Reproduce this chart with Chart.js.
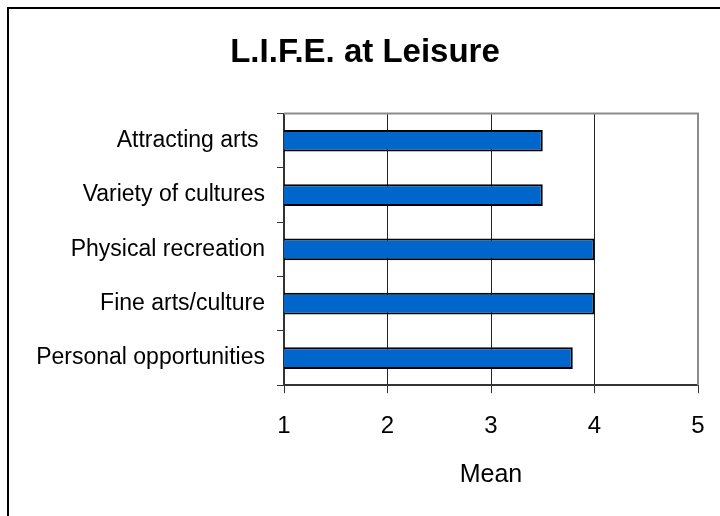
<!DOCTYPE html>
<html>
<head>
<meta charset="utf-8">
<script src="https://cdn.jsdelivr.net/npm/chart.js@4/dist/chart.umd.min.js"></script>
<style>
  body { margin: 0; background: #fff; }
  #wrap { width: 720px; height: 516px; }
</style>
</head>
<body>
<div id="wrap"><canvas id="grafico" width="720" height="516"></canvas></div>
<script>
// dados
const categorias = ['Attracting arts ', 'Variety of cultures', 'Physical recreation', 'Fine arts/culture', 'Personal opportunities'];
const medias = [3.5, 3.5, 4.0, 4.0, 3.79];
const ticksX = [1, 2, 3, 4, 5];

const fonte = "'Liberation Sans', Arial, sans-serif";

// moldura externa + caixa cinza da area do grafico
const molduras = {
  id: 'molduras',
  beforeDraw(chart) {
    const ctx = chart.ctx;
    ctx.save();
    ctx.fillStyle = '#fff';
    ctx.fillRect(0, 0, chart.width, chart.height);
    ctx.strokeStyle = '#000';
    ctx.lineWidth = 2;
    ctx.strokeRect(8, 8, chart.width + 20, chart.height + 20);
    ctx.restore();
  },
  afterDatasetsDraw(chart) {
    const a = chart.chartArea;
    const ctx = chart.ctx;
    ctx.save();
    ctx.strokeStyle = '#8c8c8c';
    ctx.lineWidth = 2;
    ctx.beginPath();
    ctx.moveTo(a.left, a.top);
    ctx.lineTo(a.right, a.top);
    ctx.lineTo(a.right, a.bottom);
    ctx.stroke();
    ctx.restore();
  }
};

new Chart(document.getElementById('grafico'), {
  type: 'bar',
  data: {
    labels: categorias,
    datasets: [{
      label: 'Mean',
      data: medias,
      backgroundColor: '#0066cc',
      borderColor: '#000',
      borderWidth: 2,
      borderSkipped: false,
      barPercentage: 0.8,
      categoryPercentage: 0.5
    }]
  },
  options: {
    indexAxis: 'y',
    responsive: false,
    animation: false,
    layout: { padding: { left: 32, right: 22, top: 0, bottom: 26 } },
    plugins: {
      legend: { display: false },
      tooltip: { enabled: false },
      title: {
        display: true,
        text: 'L.I.F.E. at Leisure',
        color: '#000',
        font: { family: fonte, size: 33, weight: 'bold' },
        padding: { top: 33, bottom: 41 }
      }
    },
    scales: {
      x: {
        min: 1,
        max: 5,
        afterBuildTicks: (s) => { s.ticks = ticksX.map(v => ({ value: v })); },
        afterFit: (s) => { s.paddingRight = 0; s.paddingLeft = 0; },
        border: { color: '#333', width: 2 },
        grid: {
          color: (c) => c.index === ticksX.length - 1 ? '#8c8c8c' : '#222',
          lineWidth: 1,
          tickLength: 8,
          tickColor: '#333'
        },
        ticks: {
          color: '#000',
          font: { family: fonte, size: 24 },
          padding: 19
        },
        title: {
          display: true,
          text: 'Mean',
          color: '#000',
          font: { family: fonte, size: 25 },
          padding: { top: 0, bottom: 0 }
        }
      },
      y: {
        afterFit: (s) => { s.width = 252; },
        border: { color: '#333', width: 2 },
        grid: {
          offset: true,
          drawOnChartArea: false,
          tickLength: 7,
          tickColor: '#333'
        },
        ticks: {
          color: '#000',
          font: { family: fonte, size: 23 },
          padding: 12
        }
      }
    }
  },
  plugins: [molduras]
});
</script>
</body>
</html>
